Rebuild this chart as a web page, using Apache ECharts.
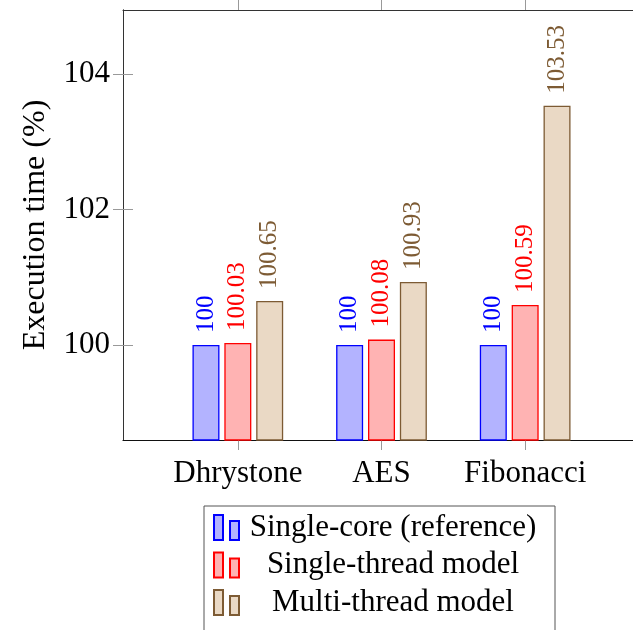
<!DOCTYPE html>
<html><head><meta charset="utf-8">
<script src="https://cdn.jsdelivr.net/npm/echarts@6/dist/echarts.min.js"></script>
<style>html,body{margin:0;padding:0;background:#fff}#c{width:633px;height:630px}</style>
</head><body><div id="c"></div>
<script>
const categories = ['Dhrystone', 'AES', 'Fibonacci'];
const seriesNames = ['Single-core (reference)', 'Single-thread model', 'Multi-thread model'];
const singleCore = [100, 100, 100];
const singleThread = [100.03, 100.08, 100.59];
const multiThread = [100.65, 100.93, 103.53];
const yTicks = [100, 102, 104];
const yMin = 98.6, yMax = 104.94;

const FONT = '"Liberation Serif", "DejaVu Serif", serif';
const styles = [
  { fill: '#b3b3ff', stroke: '#0000ff', label: '#0000ff' },
  { fill: '#ffb3b3', stroke: '#ff0000', label: '#ff0000' },
  { fill: '#ead9c5', stroke: '#7d5b34', label: '#7d5b34' }
];
const values = [singleCore, singleThread, multiThread];

const chart = echarts.init(document.getElementById('c'), null, { renderer: 'canvas' });

const series = seriesNames.map((name, i) => ({
  name: name,
  type: 'bar',
  xAxisIndex: 2,
  yAxisIndex: 2,
  barWidth: 27,
  barGap: '18%',
  data: values[i],
  itemStyle: { color: styles[i].fill, borderColor: styles[i].stroke, borderWidth: 1.3 },
  label: {
    show: true,
    position: 'top',
    rotate: 90,
    align: 'left',
    verticalAlign: 'middle',
    distance: 12,
    fontFamily: FONT,
    fontSize: 25,
    color: styles[i].label,
    formatter: p => String(p.value)
  },
  emphasis: { disabled: true }
}));

const option = {
  animation: false,
  backgroundColor: '#ffffff',
  grid: [
    { left: 123, right: -7, top: 10, bottom: 190 },
    { left: 166, right: 36, top: 10, bottom: 190 }
  ],
  xAxis: [
    { gridIndex: 0, type: 'value', min: 0, max: 1, position: 'bottom',
      axisLine: { show: true, lineStyle: { color: '#111', width: 1.2 } },
      axisTick: { show: false }, axisLabel: { show: false }, splitLine: { show: false } },
    { gridIndex: 0, type: 'value', min: 0, max: 1, position: 'top',
      axisLine: { show: true, lineStyle: { color: '#333', width: 1 } },
      axisTick: { show: false }, axisLabel: { show: false }, splitLine: { show: false } },
    { gridIndex: 1, type: 'category', data: categories, position: 'bottom',
      axisLine: { show: false },
      axisTick: { show: true, alignWithLabel: true, inside: false, length: 10, lineStyle: { color: '#999', width: 1 } },
      axisLabel: { show: true, interval: 0, hideOverlap: false, margin: 18, fontFamily: FONT, fontSize: 31, color: '#000' },
      splitLine: { show: false } },
    { gridIndex: 1, type: 'category', data: categories, position: 'top',
      axisLine: { show: false },
      axisTick: { show: true, alignWithLabel: true, inside: false, length: 10, lineStyle: { color: '#999', width: 1 } },
      axisLabel: { show: false }, splitLine: { show: false } }
  ],
  yAxis: [
    { gridIndex: 0, type: 'value', min: yMin, max: yMax, position: 'left',
      name: 'Execution time (%)', nameLocation: 'middle', nameGap: 71, nameRotate: 90,
      nameTextStyle: { fontFamily: FONT, fontSize: 32, color: '#000' },
      axisLine: { show: true, lineStyle: { color: '#333', width: 1 } },
      axisTick: { show: true, inside: true, length: 10, customValues: yTicks, lineStyle: { color: '#999', width: 1 } },
      axisLabel: { show: true, margin: 13, customValues: yTicks, fontFamily: FONT, fontSize: 31, color: '#000' },
      splitLine: { show: false } },
    { gridIndex: 0, type: 'value', min: yMin, max: yMax, position: 'right',
      axisLine: { show: true, lineStyle: { color: '#333', width: 1 } },
      axisTick: { show: true, inside: true, length: 10, customValues: yTicks, lineStyle: { color: '#999', width: 1 } },
      axisLabel: { show: false }, splitLine: { show: false } },
    { gridIndex: 1, type: 'value', min: yMin, max: yMax, show: false, splitLine: { show: false } }
  ],
  legend: {
    data: seriesNames,
    orient: 'vertical',
    left: 204,
    top: 506,
    height: 160,
    padding: [6, 13, 30, 9],
    itemWidth: 25,
    itemHeight: 25,
    itemGap: 6.5,
    borderColor: '#555',
    borderWidth: 1,
    icon: 'path://M0,0h9v25h-9z M16,6h9v19h-9z',
    selectedMode: false,
    formatter: name => '{c|' + name + '}',
    textStyle: {
      fontFamily: FONT, fontSize: 31, color: '#000',
      rich: { c: { width: 298, align: 'center', fontFamily: FONT, fontSize: 31, color: '#000', lineHeight: 25 } }
    }
  },
  series: series
};
chart.setOption(option);
</script>
</body></html>
